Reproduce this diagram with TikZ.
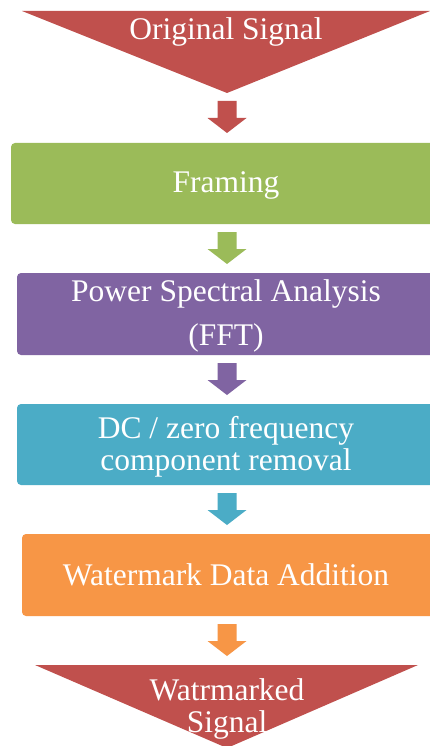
\documentclass[tikz,border=0pt]{standalone}
\usepackage{fontspec}
\setmainfont{Liberation Serif}
\definecolor{cred}{HTML}{C0504D}
\definecolor{cgreen}{HTML}{9BBB59}
\definecolor{cpurple}{HTML}{8064A2}
\definecolor{ccyan}{HTML}{4BACC6}
\definecolor{corange}{HTML}{F79646}
\tikzset{
  stagebox/.style={rounded corners=4pt},
  label/.style={text=white, inner sep=0pt, anchor=base, font=\fontsize{31.5}{38}\selectfont},
  pics/blockarrow/.style={code={
    \fill[#1] (-9.5,0) -- (9.5,0) -- (9.5,17) -- (19.5,17) -- (0,32)
              -- (-19.5,17) -- (-9.5,17) -- cycle;
  }}
}
\begin{document}
\begin{tikzpicture}[x=1pt,y=-1pt]
  % page frame
  \fill[white] (0,0) rectangle (430,746);
  \useasboundingbox (0,0) rectangle (430,746);

  % input triangle
  \fill[cred] (22,11) -- (430,11) -- (227,93) -- cycle;
  \node[label] (orig) at (226,40) {Original Signal};

  \pic at (227,101) {blockarrow=cred};

  % framing
  \fill[cgreen, stagebox] (11,143) rectangle (436,224);
  \node[label] (frame) at (226,193) {Framing};

  \pic at (227,232) {blockarrow=cgreen};

  % power spectral analysis
  \fill[cpurple, stagebox] (17,273) rectangle (436,355);
  \node[label] (psa1) at (226,301) {Power Spectral Analysis};
  \node[label] (psa2) at (226,345) {(FFT)};

  \pic at (227,363) {blockarrow=cpurple};

  % DC removal
  \fill[ccyan, stagebox] (17,404) rectangle (436,485);
  \node[label] (dc1) at (226,438) {DC / zero frequency};
  \node[label] (dc2) at (226,470) {component removal};

  \pic at (227,493) {blockarrow=ccyan};

  % watermark addition
  \fill[corange, stagebox] (22,534) rectangle (436,616);
  \node[label] (wm) at (226,585) {Watermark Data Addition};

  \pic at (227,624) {blockarrow=corange};

  % output triangle
  \fill[cred] (35,665) -- (418,665) -- (227,748) -- cycle;
  \node[label] (out1) at (227,700) {Watrmarked};
  \node[label] (out2) at (227,732) {Signal};
\end{tikzpicture}
\end{document}
